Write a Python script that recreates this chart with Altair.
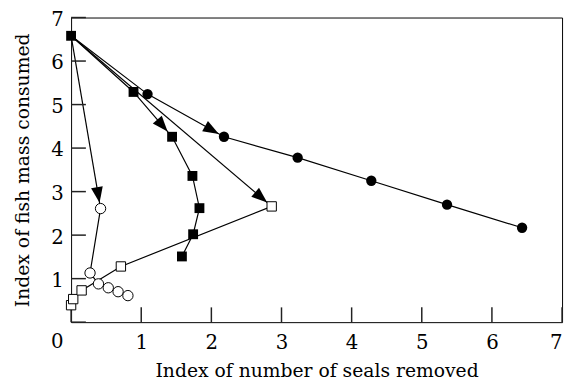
import math
import altair as alt
import pandas as pd

# ---- data ----
circ_x = [0.0, 1.09, 2.18, 3.23, 4.28, 5.36, 6.43]
circ_y = [6.58, 5.24, 4.26, 3.78, 3.25, 2.70, 2.17]
sq_x = [0.0, 0.89, 1.44, 1.73, 1.83, 1.74, 1.58]
sq_y = [6.58, 5.29, 4.26, 3.36, 2.62, 2.02, 1.51]
osq_x = [0.0, 0.03, 0.15, 0.71, 2.86]
osq_y = [0.39, 0.53, 0.73, 1.28, 2.66]
ocirc_x = [0.42, 0.27, 0.39, 0.53, 0.67, 0.81]
ocirc_y = [2.61, 1.13, 0.88, 0.79, 0.70, 0.61]
ticks = [0, 1, 2, 3, 4, 5, 6, 7]

# ---- layout ----
W, H = 498, 309
XMAX, YMAX = 7, 7
SX, SY = W / XMAX, H / YMAX
FONT = "DejaVu Serif"
TICK_LEN = 15

start = (sq_x[0], sq_y[0])
arrow_pairs = [
    (start, (ocirc_x[0], ocirc_y[0]), 14),
    (start, (osq_x[-1], osq_y[-1]), 14),
    ((sq_x[1], sq_y[1]), (sq_x[2], sq_y[2]), 15),
    ((circ_x[1], circ_y[1]), (circ_x[2], circ_y[2]), 14),
]

rows = []
for i, (x, y) in enumerate(zip(circ_x, circ_y)):
    rows.append(dict(series="fc", i=i, x=x, y=y))
for i, (x, y) in enumerate(zip(sq_x, sq_y)):
    rows.append(dict(series="fs", i=i, x=x, y=y))
for i, (x, y) in enumerate(zip(osq_x, osq_y)):
    rows.append(dict(series="os", i=i, x=x, y=y))
for i, (x, y) in enumerate(zip(ocirc_x, ocirc_y)):
    rows.append(dict(series="oc", i=i, x=x, y=y))
for k, (a, b, _) in enumerate(arrow_pairs[:2]):
    rows.append(dict(series=f"arr{k}", i=0, x=a[0], y=a[1]))
    rows.append(dict(series=f"arr{k}", i=1, x=b[0], y=b[1]))
df = pd.DataFrame(rows)

heads = []
for a, b, gap in arrow_pairs:
    dxp = (b[0] - a[0]) * SX
    dyp = -(b[1] - a[1]) * SY
    L = math.hypot(dxp, dyp)
    f = gap / L
    cx = b[0] - f * (b[0] - a[0])
    cy = b[1] - f * (b[1] - a[1])
    ang = math.degrees(math.atan2(dxp, -dyp)) % 360
    heads.append(dict(x=cx, y=cy, ang=ang))
hdf = pd.DataFrame(heads)

# inward ticks: short rules starting at the frame
tk = pd.DataFrame(dict(v=[float(t) for t in ticks]))
tk["z"] = 0.0
tk["ly"] = TICK_LEN / SX
tk["lx"] = TICK_LEN / SY

zdf = pd.DataFrame(dict(x=[0.0], y=[0.0], t=["0"]))

xs = alt.Scale(domain=[0, XMAX], nice=False, zero=False)
ys = alt.Scale(domain=[0, YMAX], nice=False, zero=False)

X = alt.X(
    "x:Q", scale=xs,
    axis=alt.Axis(
        values=ticks, title="Index of number of seals removed", format="d",
        ticks=False, tickSize=0, domain=False, grid=False,
        labelPadding=11, titlePadding=9,
        labelExpr="datum.value === 0 ? '' : datum.label",
    ),
)
Y = alt.Y(
    "y:Q", scale=ys,
    axis=alt.Axis(
        values=ticks, title="Index of fish mass consumed", format="d",
        ticks=False, tickSize=0, domain=False, grid=False,
        labelPadding=8, titlePadding=18, labelOffset=2,
        labelExpr="datum.value === 0 ? '' : datum.label",
    ),
)

base = alt.Chart(df)

lines = base.mark_line(color="black", strokeWidth=1.2).encode(
    x=X, y=Y, detail="series:N", order="i:Q"
)

ytk = alt.Chart(tk).mark_rule(color="#222222", strokeWidth=1.5).encode(
    x=alt.X("z:Q", scale=xs), x2="ly:Q", y=alt.Y("v:Q", scale=ys)
)
xtk = alt.Chart(tk).mark_rule(color="#222222", strokeWidth=1.5).encode(
    y=alt.Y("z:Q", scale=ys), y2="lx:Q", x=alt.X("v:Q", scale=xs)
)

zero_lbl = alt.Chart(zdf).mark_text(
    font=FONT, fontSize=20, color="black", dx=-14, dy=20, baseline="middle", align="center"
).encode(x=alt.X("x:Q", scale=xs), y=alt.Y("y:Q", scale=ys), text="t:N")

arrows = alt.Chart(hdf).mark_point(
    shape="M0,-1L0.75,1L-0.75,1Z", filled=True, color="black", size=256, opacity=1
).encode(x=alt.X("x:Q", scale=xs), y=alt.Y("y:Q", scale=ys), angle=alt.Angle("ang:Q", scale=None))

fc = base.transform_filter("datum.series === 'fc' && datum.i > 0").mark_point(
    shape="circle", filled=True, color="black", size=110, opacity=1
).encode(x=alt.X("x:Q", scale=xs), y=alt.Y("y:Q", scale=ys))

fs = base.transform_filter("datum.series === 'fs'").mark_point(
    shape="square", filled=True, color="black", size=100, opacity=1
).encode(x=alt.X("x:Q", scale=xs), y=alt.Y("y:Q", scale=ys))

os_ = base.transform_filter("datum.series === 'os'").mark_point(
    shape="square", filled=True, fill="white", stroke="black", strokeWidth=1, size=90, opacity=1
).encode(x=alt.X("x:Q", scale=xs), y=alt.Y("y:Q", scale=ys))

oc = base.transform_filter("datum.series === 'oc'").mark_point(
    shape="circle", filled=True, fill="white", stroke="black", strokeWidth=1, size=110, opacity=1
).encode(x=alt.X("x:Q", scale=xs), y=alt.Y("y:Q", scale=ys))

chart = (
    alt.layer(lines, ytk, xtk, zero_lbl, arrows, fs, fc, os_, oc)
    .properties(
        width=W, height=H,
        autosize=alt.AutoSizeParams(type="none"),
        padding={"left": 64, "top": 7, "right": 4, "bottom": 56},
        background="white",
    )
    .configure_view(stroke="black", strokeWidth=1, clip=False)
    .configure_axis(
        labelFont=FONT, titleFont=FONT, labelFontSize=20, titleFontSize=19,
        labelColor="black", titleColor="black", titleFontWeight="normal",
    )
)

chart.save("out.html", embed_options={"renderer": "svg", "actions": False})
